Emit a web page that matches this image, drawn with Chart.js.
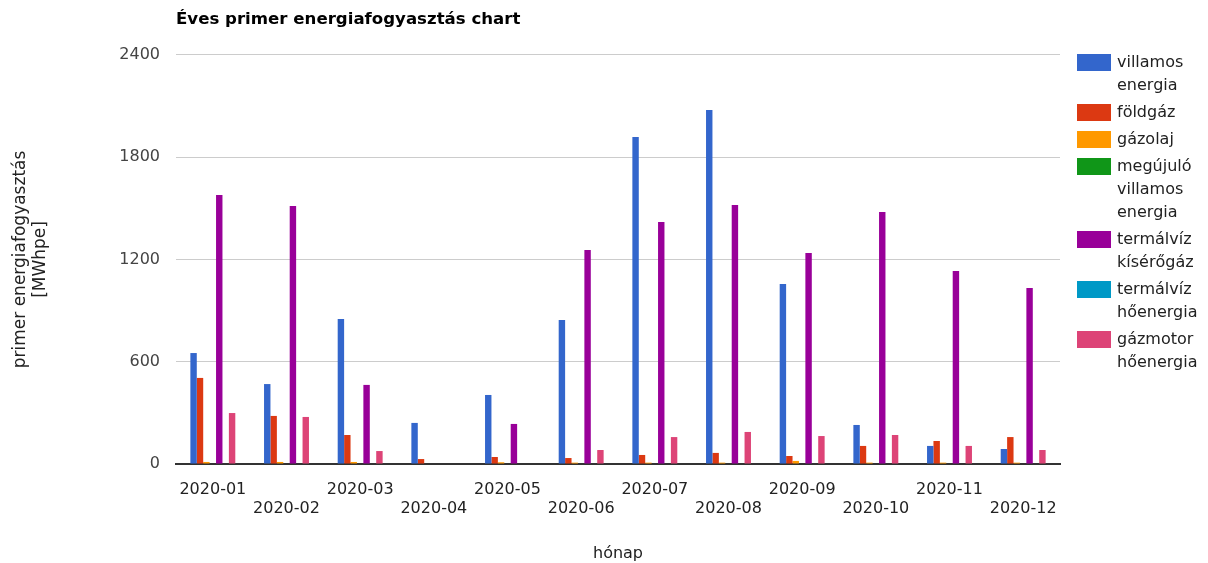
<!DOCTYPE html>
<html>
<head>
<meta charset="utf-8">
<script src="https://cdn.jsdelivr.net/npm/chart.js@4/dist/chart.umd.min.js"></script>
<style>
  html, body { margin: 0; padding: 0; background: #fff; }
  #wrap { width: 1208px; height: 563px; }
</style>
</head>
<body>
<div id="wrap"><canvas id="energyChart"></canvas></div>
<script>
// havi adatok (MWhpe)
const months = ['2020-01', '2020-02', '2020-03', '2020-04', '2020-05', '2020-06',
                '2020-07', '2020-08', '2020-09', '2020-10', '2020-11', '2020-12'];
const seriesNames = ['villamos\nenergia', 'földgáz', 'gázolaj', 'megújuló\nvillamos\nenergia',
                     'termálvíz\nkísérőgáz', 'termálvíz\nhőenergia', 'gázmotor\nhőenergia'];
const seriesColors = ['#3366cc', '#dc3912', '#ff9900', '#109618', '#990099', '#0099c6', '#dd4477'];

const villamos = [651, 469, 851, 241, 405, 845, 1919, 2077, 1056, 229, 106, 88];
const foldgaz = [505, 282, 170, 29, 41, 35, 53, 65, 47, 106, 135, 158];
const gazolaj = [12, 12, 12, 0, 10, 8, 8, 8, 18, 8, 8, 8];
const megujulo = [0, 0, 0, 0, 0, 0, 0, 0, 0, 0, 0, 0];
const termalvizKiserogaz = [1578, 1514, 464, 0, 235, 1256, 1420, 1520, 1238, 1479, 1133, 1033];
const termalvizHoenergia = [0, 0, 0, 0, 0, 0, 0, 0, 0, 0, 0, 0];
const gazmotor = [299, 276, 76, 0, 0, 82, 158, 188, 164, 170, 106, 82];

const yTicks = [0, 600, 1200, 1800, 2400];

const seriesData = [villamos, foldgaz, gazolaj, megujulo, termalvizKiserogaz, termalvizHoenergia, gazmotor];

const FONT = 'DejaVu Sans';

// jobb oldali jelmagyarázat, tördelt szöveggel
const sideLegend = {
    id: 'sideLegend',
    afterDraw(chart) {
        const ctx = chart.ctx;
        const x = 1077;
        let y = 54;
        ctx.save();
        ctx.font = '16px "' + FONT + '"';
        ctx.textBaseline = 'middle';
        ctx.textAlign = 'left';
        chart.data.datasets.forEach(ds => {
            const lines = ds.label.split('\n');
            ctx.fillStyle = ds.backgroundColor;
            ctx.fillRect(x, y, 34, 17);
            ctx.fillStyle = '#222';
            lines.forEach((line, i) => {
                ctx.fillText(line, x + 40, y + 9 + i * 23);
            });
            y += lines.length * 23 + 4;
        });
        ctx.restore();
    }
};

new Chart(document.getElementById('energyChart'), {
    type: 'bar',
    data: {
        labels: months,
        datasets: seriesNames.map((name, i) => ({
            label: name,
            data: seriesData[i],
            backgroundColor: seriesColors[i],
            borderWidth: 0,
            barPercentage: 1,
            categoryPercentage: 0.61
        }))
    },
    options: {
        responsive: true,
        maintainAspectRatio: false,
        animation: false,
        layout: {
            padding: { left: 0, right: 148, top: 0, bottom: 0 }
        },
        plugins: {
            legend: { display: false },
            tooltip: { enabled: false },
            title: {
                display: true,
                text: 'Éves primer energiafogyasztás chart',
                align: 'start',
                fullSize: false,
                color: '#000',
                font: { family: FONT, size: 16.6, weight: 'bold' },
                padding: { top: 10, bottom: 25 }
            }
        },
        scales: {
            x: {
                grid: { display: false },
                border: { display: true, color: '#333', width: 2 },
                ticks: {
                    autoSkip: false,
                    maxRotation: 0,
                    color: '#222',
                    padding: 8,
                    font: { family: FONT, size: 16 },
                    callback: (v, i) => i % 2 === 0 ? months[i] : ['', months[i]]
                },
                title: {
                    display: true,
                    text: 'hónap',
                    color: '#222',
                    font: { family: FONT, size: 16 },
                    padding: { top: 30, bottom: 0 }
                },
                afterFit: scale => { scale.height = 99; }
            },
            y: {
                min: 0,
                max: 2400,
                afterBuildTicks: scale => { scale.ticks = yTicks.map(v => ({ value: v })); },
                grid: {
                    color: c => c.tick && c.tick.value === 0 ? 'rgba(0,0,0,0)' : '#cccccc',
                    lineWidth: 1,
                    drawTicks: false
                },
                border: { display: false },
                ticks: {
                    color: '#444',
                    padding: 16,
                    font: { family: FONT, size: 16 },
                    callback: v => String(v)
                },
                title: {
                    display: true,
                    text: ['primer energiafogyasztás', '[MWhpe]'],
                    color: '#222',
                    font: { family: FONT, size: 17, lineHeight: 1.2 },
                    padding: { top: 10, bottom: 0 }
                },
                afterFit: scale => { scale.width = 176; }
            }
        }
    },
    plugins: [sideLegend]
});
</script>
</body>
</html>
